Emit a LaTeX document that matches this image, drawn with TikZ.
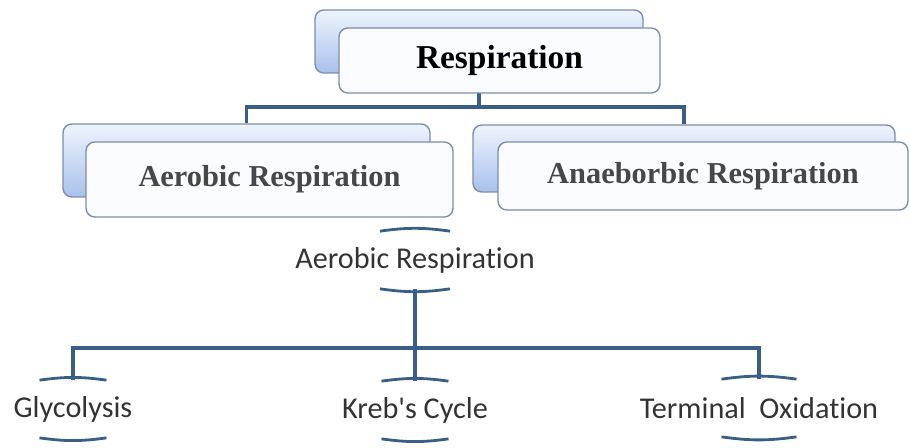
\documentclass[tikz,border=0pt]{standalone}
\usepackage{fontspec}
\setmainfont{Liberation Serif}
\setsansfont{Carlito}[Ligatures={TeX,NoCommon}]
\usepackage{tikz}

\definecolor{linkblue}{RGB}{58,95,135}
\definecolor{boxline}{RGB}{125,142,168}
\definecolor{backtop}{RGB}{238,244,253}
\definecolor{backbot}{RGB}{168,193,236}
\definecolor{frontfill}{RGB}{251,252,255}

\tikzset{
  backbox/.style={draw=boxline, line width=0.8pt, rounded corners=5pt,
    top color=backtop, bottom color=backbot, inner sep=0pt},
  frontbox/.style={draw=boxline, line width=0.8pt, rounded corners=5pt,
    fill=frontfill, inner sep=0pt},
  link/.style={draw=linkblue, line width=2pt},
  brk/.style={draw=linkblue, line width=1.6pt},
  lbl/.style={font=\sffamily\fontsize{17.2}{20}\selectfont, text=black!80,
    minimum height=1.14cm, inner sep=0pt}
}

\begin{document}
\begin{tikzpicture}[x=0.02cm,y=-0.02cm]
            \useasboundingbox (0,0) rectangle (910,447);

            \node[backbox, minimum width=6.56cm, minimum height=1.26cm] at (479,41.5) (respback) {};
            \node[backbox, minimum width=7.34cm, minimum height=1.46cm] at (246.5,160.5) (aerback) {};
            \node[backbox, minimum width=8.44cm, minimum height=1.34cm] at (684,158.5) (anaback) {};

            \coordinate (tophub) at (479,107);
            \draw[link] (respback.center) -- (tophub);
            \draw[link] (tophub) -| (aerback.north);
            \draw[link] (tophub) -| (anaback.north);

            \node[frontbox, minimum width=6.42cm, minimum height=1.3cm,
              font=\bfseries\fontsize{19}{22}\selectfont] at (499.5,60.5) (resp) {Respiration};
            \node[frontbox, minimum width=7.34cm, minimum height=1.5cm,
              font=\bfseries\fontsize{17.3}{22}\selectfont, text=black!72] at (269.5,179.5) (aer) {Aerobic Respiration};
            \node[frontbox, minimum width=8.2cm, minimum height=1.36cm,
              font=\bfseries\fontsize{17.3}{22}\selectfont, text=black!72] at (703,176) (ana) {Anaeborbic Respiration};

            \node[lbl] at (415,260) (aerlbl) {Aerobic Respiration};
            \node[lbl] at (73,409) (gly) {Glycolysis};
            \node[lbl] at (415,410) (kreb) {Kreb\textquotesingle s Cycle};
            \node[lbl] at (759,408) (term) {Terminal\hspace{0.45em}Oxidation};

            \draw[brk] ([xshift=-0.7cm]aerlbl.north) to[bend left=8] ([xshift=0.7cm]aerlbl.north);
            \draw[brk] ([xshift=-0.7cm]aerlbl.south) to[bend right=8] ([xshift=0.7cm]aerlbl.south);
            \draw[brk] ([xshift=-0.67cm]gly.north) to[bend left=8] ([xshift=0.67cm]gly.north);
            \draw[brk] ([xshift=-0.67cm]gly.south) to[bend right=8] ([xshift=0.67cm]gly.south);
            \draw[brk] ([xshift=-0.67cm]kreb.north) to[bend left=8] ([xshift=0.67cm]kreb.north);
            \draw[brk] ([xshift=-0.67cm]kreb.south) to[bend right=8] ([xshift=0.67cm]kreb.south);
            \draw[brk] ([xshift=-0.75cm]term.north) to[bend left=8] ([xshift=0.75cm]term.north);
            \draw[brk] ([xshift=-0.75cm]term.south) to[bend right=8] ([xshift=0.75cm]term.south);

            \coordinate (hub) at (415,348);
            \draw[link] (aerlbl.south) -- (hub);
            \draw[link] (hub) -| (gly.north);
            \draw[link] (hub) -- (kreb.north);
            \draw[link] (hub) -| (term.north);
        \end{tikzpicture}
\end{document}
